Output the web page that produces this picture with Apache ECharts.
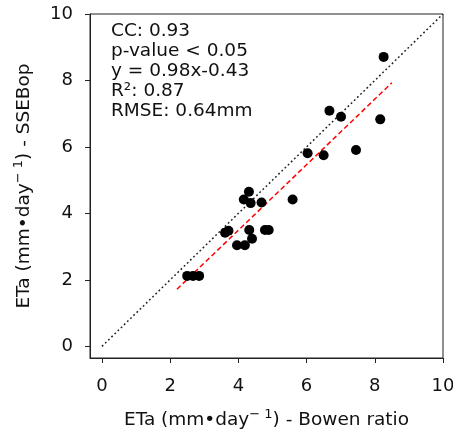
<!DOCTYPE html>
<html>
<head>
<meta charset="utf-8">
<script src="https://cdn.jsdelivr.net/npm/echarts@6/dist/echarts.min.js"></script>
<style>
html,body{margin:0;padding:0;background:#fff;}
#chart{width:453px;height:432px;}
</style>
</head>
<body>
<div id="chart"></div>
<script>
var bowenRatio = [2.50, 2.67, 2.85, 3.61, 3.71, 3.96, 4.19, 4.32, 4.40, 4.78, 4.89, 4.16, 4.31, 4.36, 4.68, 5.59, 6.03, 6.50, 7.45, 6.67, 7.01, 8.16, 8.26];
var ssebop     = [2.12, 2.12, 2.12, 3.42, 3.48, 3.04, 3.04, 3.50, 3.24, 3.50, 3.50, 4.42, 4.65, 4.31, 4.33, 4.42, 5.81, 5.75, 5.91, 7.09, 6.91, 6.83, 8.71];
// Regression line end points
var fitX = [2.2, 8.5];
var fitY = [1.72, 7.93];
// 1:1 line
var oneToOneX = [0, 10];
var oneToOneY = [0, 10];
// Tick labels
var tickValues = [0, 2, 4, 6, 8, 10];
// Statistics text
var statsLines = ['CC: 0.93', 'p-value < 0.05', 'y = 0.98x-0.43', 'R\u00B2: 0.87', 'RMSE: 0.64mm'];
var xTitle = '{a|ETa (mm\u2022day}{s|\u2212 1}{a|) - Bowen ratio}';
var yTitle = '{a|ETa (mm\u2022day}{s|\u2212 1}{a|) - SSEBop}';

var FONT = 'DejaVu Sans';
var FS = 18.5;
var chart = echarts.init(document.getElementById('chart'), null, {renderer: 'canvas'});

function zip(a, b) { return a.map(function (v, i) { return [v, b[i]]; }); }

var nameRich = {
  a: {fontFamily: FONT, fontSize: FS, color: '#111', lineHeight: 22, verticalAlign: 'bottom'},
  s: {fontFamily: FONT, fontSize: 13, color: '#111', lineHeight: 22, verticalAlign: 'top'}
};

function axisCfg(name, nameGap, isY) {
  return {
    type: 'value',
    min: -0.35,
    max: 10,
    name: name,
    nameLocation: 'middle',
    nameGap: nameGap,
    nameTextStyle: {fontFamily: FONT, fontSize: FS, color: '#111', rich: nameRich},
    axisLine: {show: true, onZero: false, lineStyle: {color: '#222', width: 1}},
    axisTick: {show: true, inside: false, length: 5, customValues: tickValues, lineStyle: {color: '#222', width: 1}},
    axisLabel: {show: true, customValues: tickValues, fontFamily: FONT, fontSize: 18, color: '#111', margin: isY ? 17 : 19},
    splitLine: {show: false}
  };
}

chart.setOption({
  animation: false,
  backgroundColor: '#fff',
  grid: {left: 90, top: 14, right: 10, bottom: 74, containLabel: false, outerBoundsMode: 'none', show: true, borderColor: '#222', borderWidth: 1, backgroundColor: 'transparent'},
  xAxis: axisCfg(xTitle, 50, false),
  yAxis: axisCfg(yTitle, 56, true),
  graphic: [{
    type: 'text',
    left: 111,
    top: 21.5,
    style: {
      text: statsLines.join('\n'),
      fontFamily: FONT,
      fontSize: FS,
      lineHeight: 19.9,
      fill: '#111'
    }
  }],
  series: [
    {
      type: 'line',
      data: zip(oneToOneX, oneToOneY),
      showSymbol: false,
      symbol: 'none',
      lineStyle: {color: '#222', width: 1.5, type: [1.8, 2.6]},
      z: 2
    },
    {
      type: 'line',
      data: zip(fitX, fitY),
      showSymbol: false,
      symbol: 'none',
      lineStyle: {color: '#ff0000', width: 1.5, type: [5, 3]},
      z: 3
    },
    {
      type: 'scatter',
      data: zip(bowenRatio, ssebop),
      symbol: 'circle',
      symbolSize: 10,
      itemStyle: {color: '#000', opacity: 1},
      z: 4
    }
  ]
});
</script>
</body>
</html>
